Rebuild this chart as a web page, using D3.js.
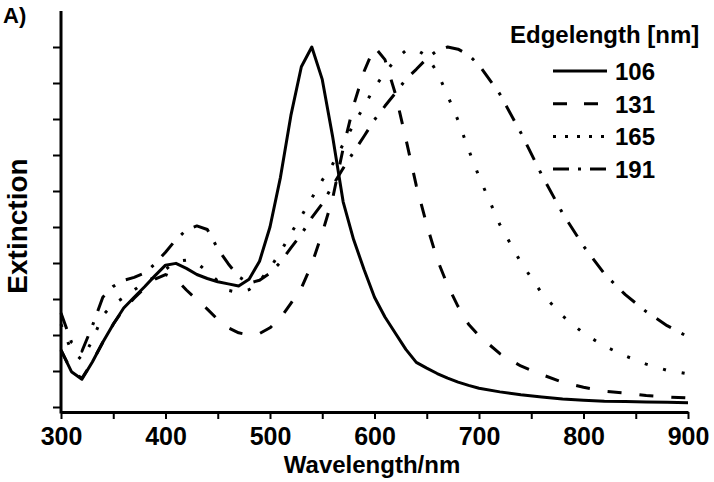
<!DOCTYPE html>
<html>
<head>
<meta charset="utf-8">
<style>
    body { margin: 0; background: #fff; }
    svg text { font-family: "Liberation Sans", Arial, sans-serif; font-weight: bold; fill: #000; }
    .axis path, .axis line { stroke: #000; }
</style>
<script src="https://d3js.org/d3.v7.min.js"></script>
</head>
<body>
<svg width="714" height="482"></svg>
<script>

// wavelength grid (nm) shared by all spectra
var wavelengths = [300,310,320,330,340,350,360,370,380,390,400,410,420,430,440,450,460,470,480,490,
                   500,510,520,530,540,550,560,570,580,590,600,610,620,630,640,650,660,670,680,690,
                   700,720,740,760,780,800,820,840,860,880,900];

// extinction (arb. units) for each edge length
var ext106 = [1.58,0.98,0.77,1.25,1.8,2.3,2.75,3.05,3.34,3.65,3.94,3.99,3.85,3.68,3.57,3.48,3.42,3.36,3.55,4.05,
              5.0,6.38,8.1,9.45,10.0,9.1,7.5,5.7,4.65,3.82,3.05,2.5,2.05,1.6,1.24,1.08,0.93,0.8,0.69,0.6,
              0.52,0.42,0.34,0.28,0.22,0.19,0.16,0.15,0.14,0.13,0.12];
var ext131 = [1.58,1.0,0.8,1.25,1.8,2.3,2.72,3.02,3.3,3.55,3.68,3.55,3.25,2.98,2.72,2.43,2.2,2.06,2.0,2.04,
              2.2,2.47,2.88,3.3,3.97,4.83,5.8,7.18,8.38,9.32,10.0,9.65,8.7,7.45,6.15,5.06,4.1,3.38,2.79,2.3,
              1.98,1.48,1.14,0.9,0.69,0.55,0.44,0.39,0.32,0.28,0.25];
var ext165 = [2.3,1.55,1.31,1.85,2.55,2.85,3.04,3.25,3.45,3.62,3.82,4.04,4.08,4.0,3.76,3.5,3.24,3.18,3.26,3.5,
              3.86,4.3,4.82,5.3,5.8,6.3,6.75,7.3,7.85,8.35,8.88,9.28,9.65,9.9,9.93,9.75,9.3,8.65,7.96,7.15,
              6.4,5.06,4.02,3.16,2.53,2.05,1.69,1.42,1.19,1.02,0.92];
var ext191 = [2.61,1.8,1.55,2.25,3.05,3.35,3.52,3.6,3.72,3.98,4.3,4.65,4.92,5.03,4.93,4.4,3.98,3.62,3.44,3.52,
              3.72,4.02,4.42,4.8,5.26,5.65,6.15,6.63,7.08,7.52,7.98,8.36,8.72,9.1,9.38,9.68,9.9,10.0,9.94,9.78,
              9.5,8.69,7.62,6.45,5.38,4.47,3.7,3.12,2.65,2.26,1.95];

var edgeLengths = ["106", "131", "165", "191"];
var xTicks = [300,350,400,450,500,550,600,650,700,750,800,850,900];
var yTicks = [0,1,2,3,4,5,6,7,8,9,10];

var series = [ext106, ext131, ext165, ext191].map(function(vals, i) {
    return { label: edgeLengths[i],
             points: vals.map(function(v, j) { return [wavelengths[j], v]; }) };
});

var dashes = ["none", "14,18", "3,16", "17,12,3,12"];
var legendDashes = ["none", "14,17", "3,9", "16,9,3,9"];

var svg = d3.select("svg");
var axisY = 412;

var x = d3.scaleLinear().domain([300, 900]).range([61, 688]);
var y = d3.scaleLinear().domain([0, 10]).range([407, 47]);

// x axis
var gx = svg.append("g")
    .attr("class", "axis")
    .attr("transform", "translate(0," + axisY + ")")
    .call(d3.axisBottom(x)
        .tickValues(xTicks)
        .tickFormat(function(d) { return d % 100 === 0 ? d : ""; })
        .tickSize(7)
        .tickSizeOuter(0));
gx.select(".domain").attr("stroke-width", 3);
gx.selectAll(".tick line").attr("stroke-width", 2);
gx.selectAll(".tick text")
    .attr("dy", null)
    .attr("y", 33)
    .style("font-size", "25px");

// y axis (no labels)
var gy = svg.append("g")
    .attr("class", "axis")
    .attr("transform", "translate(61,0)")
    .call(d3.axisLeft(y).tickValues(yTicks).tickFormat("").tickSize(8).tickSizeOuter(0));
gy.select(".domain").remove();
gy.selectAll(".tick line").attr("stroke-width", 2);
gy.append("line")
    .attr("x1", 0).attr("x2", 0)
    .attr("y1", 11).attr("y2", axisY + 1.5)
    .attr("stroke", "#000")
    .attr("stroke-width", 3);

// spectra
var line = d3.line()
    .x(function(d) { return x(d[0]); })
    .y(function(d) { return y(d[1]); });

svg.append("g").selectAll("path")
    .data(series)
    .enter().append("path")
    .attr("d", function(d) { return line(d.points); })
    .attr("fill", "none")
    .attr("stroke", "#000")
    .attr("stroke-width", 3)
    .attr("stroke-linejoin", "round")
    .attr("stroke-dasharray", function(d, i) { return dashes[i]; });

// labels
svg.append("text")
    .attr("x", 3).attr("y", 23)
    .style("font-size", "22px")
    .text("A)");

svg.append("text")
    .attr("transform", "translate(27,226) rotate(-90)")
    .attr("text-anchor", "middle")
    .style("font-size", "28px")
    .text("Extinction");

svg.append("text")
    .attr("x", 372).attr("y", 473)
    .attr("text-anchor", "middle")
    .style("font-size", "24px")
    .text("Wavelength/nm");

// legend
var legend = svg.append("g");
legend.append("text")
    .attr("x", 510).attr("y", 43)
    .style("font-size", "24px")
    .text("Edgelength [nm]");

var items = legend.selectAll(".item")
    .data(series)
    .enter().append("g")
    .attr("class", "item")
    .attr("transform", function(d, i) { return "translate(0," + (71 + i * 32.7) + ")"; });

items.append("line")
    .attr("x1", 553).attr("x2", 607)
    .attr("stroke", "#000")
    .attr("stroke-width", 3)
    .attr("stroke-dasharray", function(d, i) { return legendDashes[i]; });

items.append("text")
    .attr("x", 615).attr("y", 9)
    .style("font-size", "24px")
    .text(function(d) { return d.label; });

</script>
</body>
</html>
